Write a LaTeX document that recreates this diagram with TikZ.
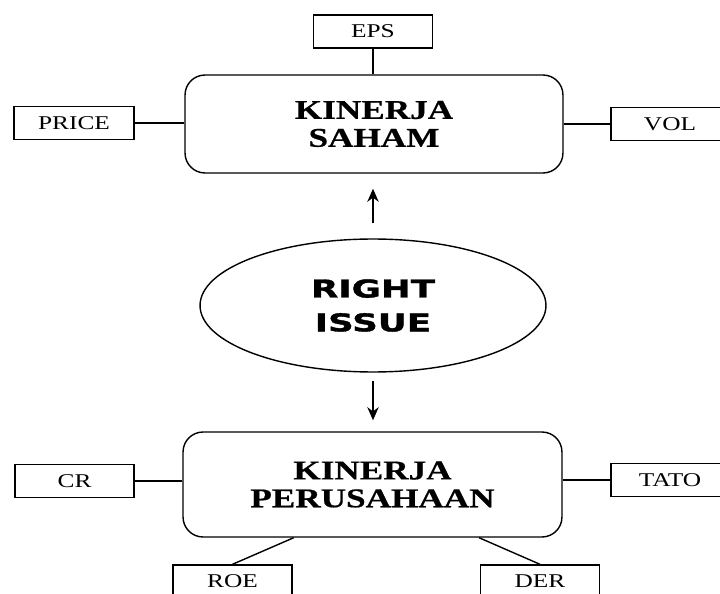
\documentclass[tikz,border=0pt]{standalone}
\usepackage{fontspec}
\usepackage{tikz}
\usetikzlibrary{shapes,arrows.meta,positioning,calc}
\setmainfont{Liberation Serif}
\newfontfamily\boxfont{Liberation Serif}[FakeStretch=1.3]
\newfontfamily\judulfont{Liberation Serif Bold}[FakeStretch=1.3,FakeBold=0.6]
\newfontfamily\issuefont{DejaVu Sans Bold}[FakeStretch=1.45,FakeBold=1.3]

\begin{document}
\begin{tikzpicture}[x=0.02cm, y=-0.02cm, line width=0.8pt,
  kinerja/.style={rectangle, rounded corners=0.4cm, draw, align=center,
    font=\judulfont\fontsize{15.4}{15.9}\selectfont},
  indikator/.style={rectangle, draw, minimum width=2.38cm, minimum height=0.66cm,
    inner sep=0pt, font=\boxfont\fontsize{11.1}{13}\selectfont},
  panah/.style={-{Stealth[length=7.5pt,width=6.5pt]}}]
\useasboundingbox (0,0) rectangle (720,594);
\clip (0,0) rectangle (720,594);

% kinerja saham
\node[kinerja, minimum width=7.56cm, minimum height=1.96cm] (saham) at (374,124) {KINERJA\\SAHAM};
\node[indikator] (eps) at (373,31.5) {EPS};
\node[indikator, minimum width=2.4cm] (price) at (74,123) {PRICE};
\node[indikator, minimum width=2.36cm] (vol) at (670,124) {VOL};
\draw (eps) -- (eps |- saham.north);
\draw (price) -- (price -| saham.west);
\draw (vol) -- (vol -| saham.east);

% right issue
\node[ellipse, draw, minimum width=6.92cm, minimum height=2.66cm, inner sep=0pt, align=center,
  font=\issuefont\fontsize{14}{19.3}\selectfont] (issue) at (373,305.5) {RIGHT\\ISSUE};
\draw[panah, shorten <=0.3cm, shorten >=0.3cm] (issue.north) -- (issue.north |- saham.south);

% kinerja perusahaan
\node[kinerja, minimum width=7.58cm, minimum height=2.1cm] (perusahaan) at (372.5,484.5) {KINERJA\\PERUSAHAAN};
\draw[panah, shorten <=0.16cm, shorten >=0.22cm] (issue.south) -- (issue.south |- perusahaan.north);
\node[indikator] (cr) at (74.5,481) {CR};
\node[indikator, minimum width=2.36cm] (tato) at (670,479.8) {TATO};
\node[indikator] (roe) at (232.5,581.5) {ROE};
\node[indikator] (der) at (540,581.5) {DER};
\coordinate (pkiri) at ($(perusahaan.south west)!0.293!(perusahaan.south east)$);
\coordinate (pkanan) at ($(perusahaan.south west)!0.78!(perusahaan.south east)$);
\draw (cr) -- (cr -| perusahaan.west);
\draw (tato) -- (tato -| perusahaan.east);
\draw (pkiri) -- (roe.north);
\draw (pkanan) -- (der.north);
\end{tikzpicture}
\end{document}
